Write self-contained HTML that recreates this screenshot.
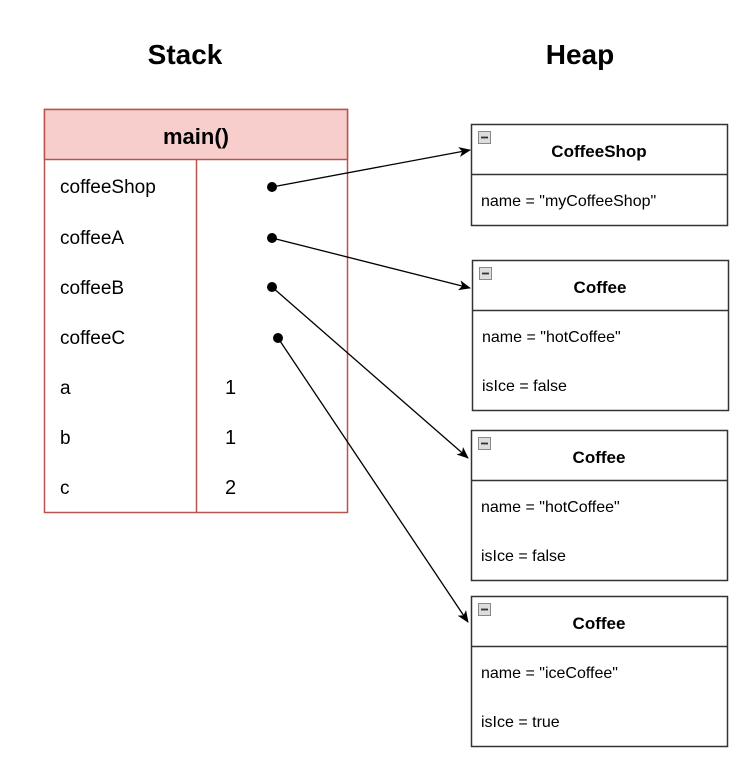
<!DOCTYPE html>
<html><head><style>
body{margin:0;background:#fff;width:755px;height:774px;position:relative;font-family:"Liberation Sans",Arial,sans-serif;overflow:hidden}
</style></head><body>
<svg width="755" height="774" style="position:absolute;left:0;top:0" font-family="Liberation Sans, Arial, sans-serif">
<defs><marker id="a" markerWidth="12" markerHeight="10" refX="11" refY="5" orient="auto" markerUnits="userSpaceOnUse"><path d="M0,0 L12,5 L0,10 L3,5 Z" fill="#000"/></marker></defs>
<text x="185" y="64" font-size="28" font-weight="bold" text-anchor="middle">Stack</text>
<text x="580" y="64" font-size="28" font-weight="bold" text-anchor="middle">Heap</text>
<rect x="44.5" y="109.5" width="303" height="403" fill="#fff" stroke="#b85450" stroke-width="1.5"/>
<rect x="44.5" y="109.5" width="303" height="50" fill="#f8cecc" stroke="#b85450" stroke-width="1.5"/>
<line x1="196.5" y1="160" x2="196.5" y2="512" stroke="#b85450" stroke-width="1.5"/>
<text x="196" y="144" font-size="22" font-weight="bold" text-anchor="middle">main()</text>
<g font-size="19">
<text x="60" y="193">coffeeShop</text>
<text x="60" y="244">coffeeA</text>
<text x="60" y="294">coffeeB</text>
<text x="60" y="344">coffeeC</text>
<text x="60" y="394">a</text>
<text x="60" y="444">b</text>
<text x="60" y="494">c</text>
</g>
<g font-size="20">
<text x="225" y="394">1</text>
<text x="225" y="444">1</text>
<text x="225" y="494">2</text>
</g>
<g stroke="#000" stroke-width="1.3" fill="none" marker-end="url(#a)">
<line x1="272" y1="187" x2="470" y2="150"/>
<line x1="272" y1="238" x2="470" y2="288"/>
<line x1="272" y1="287" x2="468" y2="458"/>
<line x1="278" y1="338" x2="468" y2="622"/>
</g>
<g fill="#000"><circle cx="272" cy="187" r="5"/><circle cx="272" cy="238" r="5"/><circle cx="272" cy="287" r="5"/><circle cx="278" cy="338" r="5"/></g>
<g stroke="#333" stroke-width="1.5" fill="#fff">
<rect x="471.5" y="124.5" width="256" height="101"/><line x1="471.5" y1="174.5" x2="727.5" y2="174.5"/>
<rect x="472.5" y="260.5" width="256" height="150"/><line x1="472.5" y1="310.5" x2="728.5" y2="310.5"/>
<rect x="471.5" y="430.5" width="256" height="150"/><line x1="471.5" y1="480.5" x2="727.5" y2="480.5"/>
<rect x="471.5" y="596.5" width="256" height="150"/><line x1="471.5" y1="646.5" x2="727.5" y2="646.5"/>
</g>
<g fill="#ddd" stroke="#888" stroke-width="1">
<rect x="478.5" y="131.5" width="12" height="12"/><rect x="479.5" y="267.5" width="12" height="12"/>
<rect x="478.5" y="437.5" width="12" height="12"/><rect x="478.5" y="603.5" width="12" height="12"/>
</g>
<g stroke="#333" stroke-width="1.8"><line x1="481" y1="137.5" x2="488" y2="137.5"/><line x1="482" y1="273.5" x2="489" y2="273.5"/><line x1="481" y1="443.5" x2="488" y2="443.5"/><line x1="481" y1="609.5" x2="488" y2="609.5"/></g>
<g font-size="17" font-weight="bold" text-anchor="middle">
<text x="599" y="157">CoffeeShop</text>
<text x="600" y="293">Coffee</text>
<text x="599" y="463">Coffee</text>
<text x="599" y="629">Coffee</text>
</g>
<g font-size="16">
<text x="481" y="206">name = "myCoffeeShop"</text>
<text x="482" y="342">name = "hotCoffee"</text>
<text x="482" y="391">isIce = false</text>
<text x="481" y="512">name = "hotCoffee"</text>
<text x="481" y="561">isIce = false</text>
<text x="481" y="678">name = "iceCoffee"</text>
<text x="481" y="727">isIce = true</text>
</g>
</svg>
</body></html>
